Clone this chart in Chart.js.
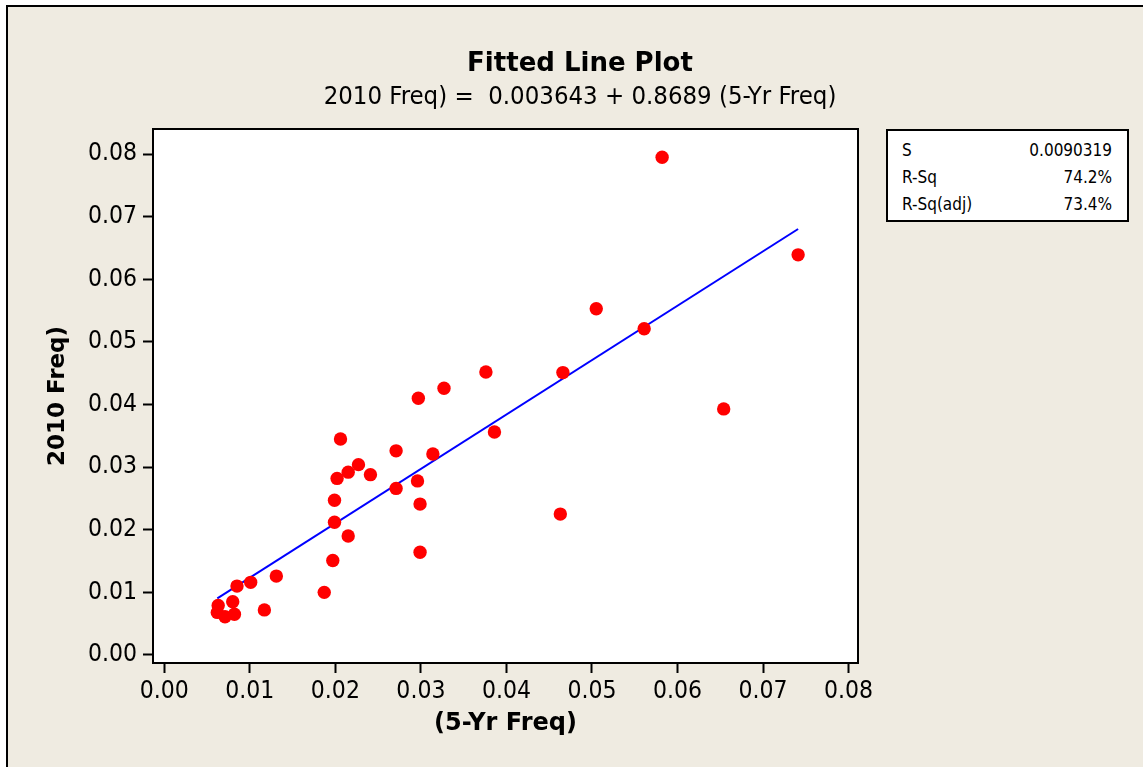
<!DOCTYPE html>
<html>
<head>
<meta charset="utf-8">
<title>Fitted Line Plot</title>
<script src="https://cdn.jsdelivr.net/npm/chart.js@4.4.1/dist/chart.umd.min.js"></script>
<style>
  html, body { margin: 0; padding: 0; background: #ffffff; }
  body { width: 1143px; height: 767px; position: relative; overflow: hidden; }
  #frame {
    position: absolute; left: 6px; top: 5px; right: 0; bottom: 0;
    background: #efebe1; border-left: 2px solid #000; border-top: 2px solid #000;
  }
  #plot { position: absolute; left: 0; top: 0; }
  .head {
    position: absolute; left: 0; width: 1160px; text-align: center; color: #000;
    white-space: pre;
  }
  #title { top: 47px; font: bold 26px "DejaVu Sans", sans-serif; line-height: 30px; }
  #subtitle { top: 80px; font: 25.5px "DejaVu Sans Condensed", "DejaVu Sans", sans-serif; line-height: 30px; }
  #stats {
    position: absolute; left: 886px; top: 129px; width: 239px; height: 89px;
    background: #fff; border: 2px solid #000;
    font: 17px "DejaVu Sans Condensed", "DejaVu Sans", sans-serif; color: #000;
  }
  #stats table { border-collapse: collapse; width: 100%; margin-top: 5px; }
  #stats td { height: 27px; padding: 0 14px; }
  #stats td.v { text-align: right; padding-right: 15px; }
</style>
</head>
<body>
<div id="frame"></div>
<canvas id="plot" width="1143" height="767"></canvas>
<div class="head" id="title">Fitted Line Plot</div>
<div class="head" id="subtitle"></div>
<div id="stats"><table id="statsTable"></table></div>

<script>
// 5-year frequency vs 2010 frequency, one entry per item
const freq5yr = [
  0.0063, 0.0062, 0.0071, 0.0082, 0.0080, 0.0117, 0.0085, 0.0101, 0.0131,
  0.0187, 0.0197, 0.0199, 0.0215, 0.0199, 0.0202, 0.0215, 0.0227, 0.0206,
  0.0241, 0.0271, 0.0271, 0.0296, 0.0299, 0.0299, 0.0314, 0.0297, 0.0327,
  0.0376, 0.0386, 0.0463, 0.0466, 0.0505, 0.0561, 0.0582, 0.0654, 0.0741
];
const freq2010 = [
  0.0079, 0.0068, 0.0061, 0.0065, 0.0085, 0.0072, 0.0110, 0.0116, 0.0126,
  0.0100, 0.0151, 0.0212, 0.0190, 0.0247, 0.0282, 0.0292, 0.0304, 0.0345,
  0.0288, 0.0326, 0.0266, 0.0278, 0.0241, 0.0164, 0.0321, 0.0410, 0.0426,
  0.0452, 0.0356, 0.0225, 0.0451, 0.0553, 0.0521, 0.0795, 0.0393, 0.0639
];

// regression result printed above the plot
const intercept = 0.003643;
const slope = 0.8689;
const statNames = ['S', 'R-Sq', 'R-Sq(adj)'];
const statValues = ['0.0090319', '74.2%', '73.4%'];

const axisTicks = [0, 0.01, 0.02, 0.03, 0.04, 0.05, 0.06, 0.07, 0.08];

const sans = '"DejaVu Sans Condensed", "DejaVu Sans", sans-serif';
const bold = '"DejaVu Sans", sans-serif';

document.getElementById('subtitle').textContent =
  `2010 Freq) =  ${intercept} + ${slope} (5-Yr Freq)`;

const statsTable = document.getElementById('statsTable');
statNames.forEach((name, i) => {
  const row = document.createElement('tr');
  const a = document.createElement('td');
  a.textContent = name;
  const b = document.createElement('td');
  b.className = 'v';
  b.textContent = statValues[i];
  row.appendChild(a);
  row.appendChild(b);
  statsTable.appendChild(row);
});

const points = freq5yr.map((x, i) => ({ x: x, y: freq2010[i] }));

// fitted line across the range of the data
const xLo = Math.min(...freq5yr);
const xHi = Math.max(...freq5yr);
const fitted = [xLo, xHi].map(x => ({ x: x, y: intercept + slope * x }));

// white plot region with a black frame
const plotFrame = {
  id: 'plotFrame',
  beforeDraw(chart) {
    const { ctx, chartArea: a } = chart;
    ctx.save();
    ctx.fillStyle = '#ffffff';
    ctx.fillRect(a.left, a.top, a.right - a.left, a.bottom - a.top);
    ctx.restore();
  },
  afterDraw(chart) {
    const { ctx, chartArea: a } = chart;
    ctx.save();
    ctx.strokeStyle = '#000000';
    ctx.lineWidth = 2;
    ctx.strokeRect(a.left, a.top, a.right - a.left, a.bottom - a.top);
    ctx.restore();
  }
};

function tickGrid() {
  return {
    drawOnChartArea: false,
    drawTicks: true,
    tickLength: 10,
    tickWidth: 2,
    tickColor: '#000000'
  };
}

new Chart(document.getElementById('plot'), {
  type: 'scatter',
  data: {
    datasets: [
      {
        label: 'data',
        data: points,
        backgroundColor: '#ff0000',
        borderWidth: 0,
        pointRadius: 6.7
      },
      {
        type: 'line',
        label: 'fit',
        data: fitted,
        borderColor: '#0000ff',
        borderWidth: 2,
        pointRadius: 0,
        fill: false,
        tension: 0
      }
    ]
  },
  options: {
    responsive: false,
    animation: false,
    layout: { padding: { top: 129, right: 285, bottom: 0, left: 0 } },
    plugins: { legend: { display: false }, tooltip: { enabled: false } },
    scales: {
      x: {
        type: 'linear',
        min: -0.00132,
        max: 0.0811,
        afterFit: s => { s.height = 104; },
        afterBuildTicks: s => { s.ticks = axisTicks.map(v => ({ value: v })); },
        border: { display: false },
        grid: tickGrid(),
        ticks: {
          color: '#000',
          padding: 4,
          font: { family: sans, size: 24.5 },
          callback: v => v.toFixed(2)
        },
        title: {
          display: true,
          text: '(5-Yr Freq)',
          color: '#000',
          font: { family: bold, size: 24, weight: 'bold' },
          padding: { top: 0, bottom: 29 }
        }
      },
      y: {
        type: 'linear',
        min: -0.00128,
        max: 0.0840,
        afterFit: s => { s.width = 153; },
        afterBuildTicks: s => { s.ticks = axisTicks.map(v => ({ value: v })); },
        border: { display: false },
        grid: tickGrid(),
        ticks: {
          color: '#000',
          padding: 6,
          font: { family: sans, size: 24.5 },
          callback: v => v.toFixed(2)
        },
        title: {
          display: true,
          text: '2010 Freq)',
          color: '#000',
          font: { family: bold, size: 23, weight: 'bold' },
          padding: { top: 44, bottom: 0 }
        }
      }
    }
  },
  plugins: [plotFrame]
});
</script>
</body>
</html>
